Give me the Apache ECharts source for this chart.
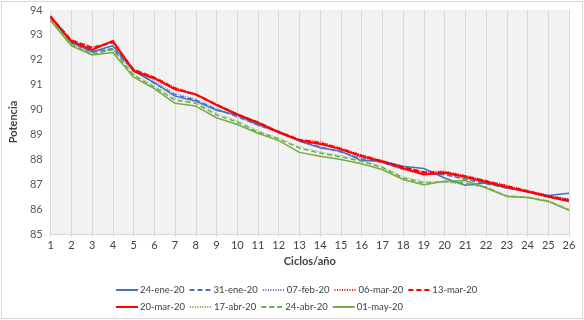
<!DOCTYPE html>
<html>
<head>
<meta charset="utf-8">
<script src="https://cdn.jsdelivr.net/npm/echarts@6/dist/echarts.min.js"></script>
<style>
  body { margin: 0; background: #fff; }
  .frame {
    position: absolute; left: 1px; top: 1px; width: 582px; height: 318px;
    border: 1px solid #d9d9d9; box-sizing: border-box;
  }
  #chart { position: absolute; left: 0; top: 0; width: 584px; height: 320px; }
</style>
</head>
<body>
<div class="frame"></div>
<div id="chart"></div>
<script>
// ciclos 1..26
const ciclos = [1, 2, 3, 4, 5, 6, 7, 8, 9, 10, 11, 12, 13, 14, 15, 16, 17, 18, 19, 20, 21, 22, 23, 24, 25, 26];

const names = ['24-ene-20', '31-ene-20', '07-feb-20', '06-mar-20', '13-mar-20',
               '20-mar-20', '17-abr-20', '24-abr-20', '01-may-20'];

const ene24 = [93.77, 92.70, 92.32, 92.56, 91.55, 91.08, 90.54, 90.34, 89.97, 89.78, 89.40, 89.12, 88.73,
               88.46, 88.33, 87.95, 87.92, 87.72, 87.63, 87.25, 86.96, 87.05, 86.85, 86.72, 86.55, 86.64];
const ene31 = [93.72, 92.68, 92.30, 92.45, 91.58, 91.05, 90.60, 90.38, 90.00, 89.72, 89.38, 89.10, 88.75,
               88.50, 88.30, 88.02, 87.88, 87.60, 87.45, 87.38, 87.20, 87.02, 86.85, 86.70, 86.52, 86.38];
const feb07 = [93.70, 92.72, 92.35, 92.40, 91.60, 91.15, 90.65, 90.42, 90.05, 89.70, 89.35, 89.08, 88.72,
               88.52, 88.28, 88.05, 87.85, 87.58, 87.40, 87.40, 87.22, 87.05, 86.88, 86.70, 86.50, 86.40];
const mar06 = [93.75, 92.80, 92.50, 92.72, 91.62, 91.30, 90.88, 90.62, 90.22, 89.82, 89.50, 89.12, 88.80,
               88.70, 88.45, 88.18, 87.95, 87.70, 87.50, 87.52, 87.35, 87.15, 86.95, 86.75, 86.55, 86.40];
const mar13 = [93.72, 92.78, 92.48, 92.70, 91.60, 91.28, 90.85, 90.60, 90.20, 89.80, 89.48, 89.10, 88.78,
               88.66, 88.42, 88.15, 87.92, 87.68, 87.48, 87.48, 87.32, 87.12, 86.92, 86.72, 86.52, 86.36];
const mar20 = [93.70, 92.74, 92.40, 92.76, 91.55, 91.25, 90.81, 90.61, 90.18, 89.80, 89.47, 89.08, 88.76,
               88.62, 88.40, 88.12, 87.90, 87.64, 87.39, 87.46, 87.29, 87.09, 86.89, 86.70, 86.50, 86.31];
const abr17 = [93.62, 92.62, 92.25, 92.45, 91.42, 90.95, 90.45, 90.30, 89.85, 89.55, 89.15, 88.85, 88.50,
               88.30, 88.15, 87.95, 87.70, 87.30, 87.10, 87.08, 86.98, 86.90, 86.55, 86.48, 86.35, 86.00];
const abr24 = [93.60, 92.60, 92.22, 92.40, 91.38, 90.90, 90.38, 90.25, 89.78, 89.50, 89.10, 88.82, 88.45,
               88.25, 88.10, 87.92, 87.68, 87.25, 87.05, 87.10, 87.05, 86.88, 86.52, 86.47, 86.32, 85.97];
const may01 = [93.57, 92.56, 92.19, 92.29, 91.30, 90.84, 90.25, 90.14, 89.67, 89.40, 89.05, 88.75, 88.28,
               88.12, 87.99, 87.82, 87.59, 87.19, 86.98, 87.12, 87.15, 86.85, 86.51, 86.47, 86.31, 85.95];

const valores = [ene24, ene31, feb07, mar06, mar13, mar20, abr17, abr24, may01];

const azul = '#4472C4';
const rojo = '#FF0000';
const verde = '#70AD47';
const estilos = [
  { color: azul, width: 1.5, type: 'solid' },
  { color: azul, width: 1.5, type: [5, 3] },
  { color: azul, width: 1, type: [1, 1.5] },
  { color: rojo, width: 1.5, type: [1, 1.5] },
  { color: rojo, width: 2, type: [5, 3] },
  { color: rojo, width: 2, type: 'solid' },
  { color: verde, width: 1, type: [1, 1.5] },
  { color: verde, width: 1.5, type: [5, 3] },
  { color: verde, width: 1.5, type: 'solid' }
];

const font = 'Lato, "Open Sans", sans-serif';
const chart = echarts.init(document.getElementById('chart'));

const legendBase = {
  left: 115,
  padding: 0,
  itemWidth: 22,
  itemHeight: 8,
  itemGap: 4,
  itemStyle: { opacity: 0 },
  textStyle: { fontFamily: font, fontSize: 9.5, color: '#404040', padding: [0, 0, 0, -3] }
};

const option = {
  animation: false,
  grid: {
    left: 48, right: 15, top: 10, bottom: 86,
    show: true, backgroundColor: '#f2f2f2', borderWidth: 0
  },
  legend: [
    Object.assign({}, legendBase, { top: 285, data: names.slice(0, 5) }),
    Object.assign({}, legendBase, { top: 302, data: names.slice(5) })
  ],
  xAxis: {
    type: 'value',
    min: 1, max: 26, interval: 1,
    name: 'Ciclos/año',
    nameLocation: 'middle',
    nameGap: 22,
    nameTextStyle: { fontFamily: font, fontSize: 11, fontWeight: 'bold', color: '#404040' },
    axisLine: { show: true, lineStyle: { color: '#d9d9d9' } },
    axisTick: { show: true, length: 3, lineStyle: { color: '#d9d9d9' } },
    axisLabel: { fontFamily: font, fontSize: 11, color: '#404040', margin: 6 },
    splitLine: { show: true, lineStyle: { color: '#d9d9d9', width: 1 } }
  },
  yAxis: {
    type: 'value',
    min: 85, max: 94, interval: 1,
    name: 'Potencia',
    nameLocation: 'middle',
    nameGap: 24,
    nameRotate: 90,
    nameTextStyle: { fontFamily: font, fontSize: 11, fontWeight: 'bold', color: '#404040' },
    axisLine: { show: false },
    axisTick: { show: false },
    axisLabel: { fontFamily: font, fontSize: 11, color: '#595959', margin: 8 },
    splitLine: { show: false }
  },
  series: names.map((n, i) => ({
    name: n,
    type: 'line',
    data: ciclos.map((c, j) => [c, valores[i][j]]),
    symbol: 'none',
    lineStyle: estilos[i],
    itemStyle: { color: estilos[i].color }
  }))
};

chart.setOption(option);
</script>
</body>
</html>
